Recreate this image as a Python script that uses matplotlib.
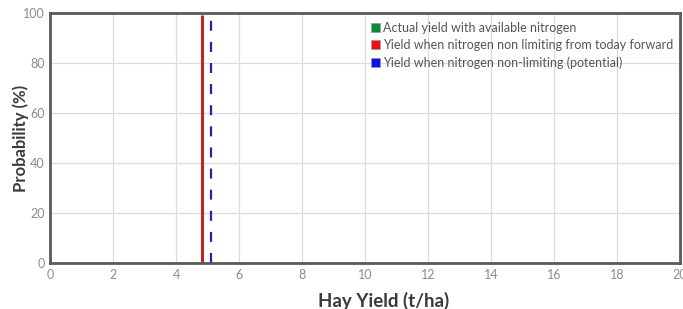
import matplotlib
matplotlib.use("Agg")
import matplotlib.pyplot as plt
from matplotlib.patches import Patch

# Data
actual_x = []
actual_y = []
today_x = [4.82, 4.82]
today_y = [0, 99]
potential_x = [5.1, 5.1]
potential_y = [0, 99]
x_ticks = [0, 2, 4, 6, 8, 10, 12, 14, 16, 18, 20]
y_ticks = [0, 20, 40, 60, 80, 100]
legend_labels = ["Actual yield with available nitrogen",
                 "Yield when nitrogen non limiting from today forward",
                 "Yield when nitrogen non-limiting (potential)"]

plt.rcParams['font.family'] = ['Lato', 'DejaVu Sans']

fig = plt.figure(figsize=(6.83, 3.09), dpi=100)
ax = fig.add_axes([0.0732, 0.149, 0.9224, 0.809])

ax.plot(actual_x, actual_y, color='#0a8a3a', lw=2)
ax.plot(today_x, today_y, color='#b8282a', lw=2.2, solid_capstyle='butt')
ax.plot(potential_x, potential_y, color='#2222b0', lw=1.6, linestyle=(0, (4.5, 5)))

ax.set_xlim(0, 20)
ax.set_ylim(0, 100)
ax.set_xticks(x_ticks)
ax.set_yticks(y_ticks)
ax.tick_params(length=0, labelsize=9, labelcolor='#8c8c8c', pad=4)
ax.grid(True, color='#dcdcdc', lw=0.9)
ax.set_axisbelow(True)
for s in ax.spines.values():
    s.set_color('#5a5a5a')
    s.set_linewidth(2)

ax.set_xlabel("Hay Yield (t/ha)", fontsize=13.5, fontweight='bold', color='#3a3a3a')
ax.xaxis.set_label_coords(0.529, -0.115)
ax.set_ylabel("Probability (%)", fontsize=12, fontweight='bold', color='#3a3a3a')
ax.yaxis.set_label_coords(-0.033, 0.5)

handles = [Patch(facecolor='#0a8a3a', edgecolor='#999999', lw=0.5),
           Patch(facecolor='#ee1111', edgecolor='#999999', lw=0.5),
           Patch(facecolor='#1111ee', edgecolor='#999999', lw=0.5)]
leg = ax.legend(handles, legend_labels, loc='upper left', bbox_to_anchor=(0.5016, 0.985),
                frameon=False, fontsize=9.0, handlelength=0.75, handleheight=0.8,
                handletextpad=0.2, labelspacing=0.42, borderaxespad=0)
for t in leg.get_texts():
    t.set_color('#555555')

fig.savefig("out.png", dpi=100)
